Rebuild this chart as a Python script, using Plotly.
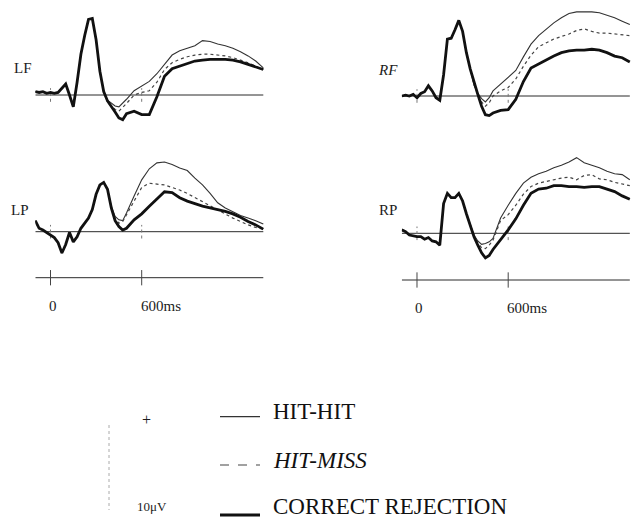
import plotly.graph_objects as go

# ---------------- data (µV) ----------------
times_ms = [-100, -75, -50, -25, 0, 25, 50, 75, 100, 125, 150, 175, 200, 225, 250,
            275, 300, 325, 350, 375, 400, 425, 450, 475, 500,
            550, 600, 650, 700, 750, 800, 850, 900, 950, 1000, 1050, 1100, 1150,
            1200, 1250, 1300, 1350, 1400]

lf_cr = [0.4, 0.3, 0.4, 0.2, 0.3, 0.2, 0.3, 0.8, 1.3, 0.0, -1.4, 1.5, 4.8, 7.0, 8.9,
         9.0, 6.5, 2.8, 0.4, -0.7, -1.3, -2.0, -2.7, -2.9, -2.2,
         -1.9, -2.3, -2.3, -0.2, 2.2, 3.1, 3.4, 3.7, 4.0, 4.1, 4.2, 4.2, 4.2,
         4.1, 3.9, 3.6, 3.3, 3.0]
lf_hh = [0.4, 0.3, 0.4, 0.2, 0.3, 0.2, 0.3, 0.8, 1.3, 0.0, -1.4, 1.5, 4.8, 7.0, 8.9,
         9.0, 6.5, 2.8, 0.4, -0.6, -1.0, -1.3, -1.4, -1.0, -0.5,
         0.5, 1.0, 1.6, 2.5, 3.6, 4.7, 5.2, 5.5, 5.8, 6.4, 6.3, 6.0, 5.8,
         5.5, 5.1, 4.6, 4.0, 3.2]
lf_hm = [0.4, 0.3, 0.4, 0.2, 0.3, 0.2, 0.3, 0.8, 1.3, 0.0, -1.4, 1.5, 4.8, 7.0, 8.9,
         9.0, 6.5, 2.8, 0.4, -0.8, -1.3, -1.7, -1.9, -1.5, -1.0,
         0.0, 0.3, 0.5, 1.5, 3.0, 3.8, 4.2, 4.5, 4.7, 4.8, 4.8, 4.7, 4.6,
         4.4, 4.1, 3.8, 3.4, 3.0]

rf_cr = [0.0, 0.1, 0.0, 0.2, -0.2, 0.3, 0.5, 1.2, 0.6, -0.2, -0.5, 2.5, 6.7, 6.8, 7.8,
         8.9, 7.6, 5.1, 3.2, 1.6, 0.2, -1.2, -2.2, -2.3, -2.0,
         -1.7, -1.6, -0.4, 1.7, 3.3, 3.8, 4.3, 4.7, 5.1, 5.3, 5.4, 5.4, 5.5,
         5.4, 5.1, 4.7, 4.5, 4.0]
rf_hh = [0.0, 0.1, 0.0, 0.2, -0.2, 0.3, 0.5, 1.2, 0.6, -0.2, -0.5, 2.5, 6.7, 6.8, 7.8,
         8.9, 7.6, 5.1, 3.2, 1.3, 0.3, -0.3, -0.7, -0.2, 0.6,
         1.4, 2.2, 3.0, 4.6, 6.1, 7.1, 7.9, 8.6, 9.2, 9.7, 9.9, 9.9, 9.9,
         9.8, 9.5, 9.2, 8.8, 8.4]
rf_hm = [0.0, 0.1, 0.0, 0.2, -0.2, 0.3, 0.5, 1.2, 0.6, -0.2, -0.5, 2.5, 6.7, 6.8, 7.8,
         8.9, 7.6, 5.1, 3.2, 1.4, 0.1, -0.7, -1.2, -0.8, 0.0,
         0.6, 1.0, 2.0, 3.5, 4.8, 5.8, 6.3, 6.7, 7.0, 7.3, 7.7, 7.9, 7.6,
         7.4, 7.4, 7.3, 7.2, 7.1]

lp_cr = [1.3, 0.4, 0.2, -0.1, -0.3, -0.7, -1.3, -2.5, -1.5, -0.1, -1.2, -0.6, 0.4, 1.0, 1.6,
         2.6, 4.4, 5.5, 5.8, 5.0, 2.8, 1.3, 0.6, 0.2, 0.4,
         1.4, 2.1, 3.0, 3.9, 4.7, 4.6, 4.0, 3.6, 3.3, 3.0, 2.8, 2.6, 2.4,
         2.1, 1.7, 1.2, 0.8, 0.3]
lp_hh = [1.3, 0.4, 0.2, -0.1, -0.3, -0.7, -1.3, -2.5, -1.5, -0.1, -1.2, -0.6, 0.4, 1.0, 1.6,
         2.6, 4.4, 5.5, 5.8, 5.0, 3.0, 1.8, 1.4, 1.3, 2.2,
         4.2, 6.1, 7.4, 8.1, 8.2, 7.9, 7.5, 7.2, 6.3, 5.5, 4.5, 3.4, 2.8,
         2.3, 1.9, 1.6, 1.3, 0.9]
lp_hm = [1.3, 0.4, 0.2, -0.1, -0.3, -0.7, -1.3, -2.5, -1.5, -0.1, -1.2, -0.6, 0.4, 1.0, 1.6,
         2.6, 4.4, 5.5, 5.8, 5.0, 3.0, 1.5, 1.0, 1.2, 2.0,
         3.6, 5.2, 5.7, 5.6, 5.5, 5.2, 4.9, 4.5, 4.0, 3.5, 3.0, 2.5, 2.0,
         1.6, 1.2, 0.8, 0.5, 0.3]

rp_cr = [0.4, 0.2, -0.2, -0.3, -0.4, -0.4, -0.7, -0.5, -0.9, -1.0, -1.4, 3.5, 4.7, 4.2, 4.2,
         4.7, 3.8, 2.3, 1.0, -0.4, -1.4, -2.3, -2.9, -2.6, -1.9,
         -0.8, 0.4, 1.7, 3.3, 4.7, 5.2, 5.3, 5.6, 5.6, 5.5, 5.5, 5.4, 5.5,
         5.5, 5.2, 4.9, 4.4, 4.0]
rp_hh = [0.4, 0.2, -0.2, -0.3, -0.4, -0.4, -0.7, -0.5, -0.9, -1.0, -1.4, 3.5, 4.7, 4.2, 4.2,
         4.7, 3.8, 2.3, 1.0, -0.2, -0.9, -1.3, -1.2, -1.0, -0.6,
         1.8, 3.3, 4.7, 5.9, 6.6, 7.0, 7.3, 7.7, 8.0, 8.4, 8.9, 8.3, 8.0,
         7.7, 7.3, 7.0, 6.9, 6.3]
rp_hm = [0.4, 0.2, -0.2, -0.3, -0.4, -0.4, -0.7, -0.5, -0.9, -1.0, -1.4, 3.5, 4.7, 4.2, 4.2,
         4.7, 3.8, 2.3, 1.0, -0.3, -1.1, -1.7, -1.8, -1.4, -0.8,
         1.5, 2.2, 3.3, 4.6, 5.5, 5.9, 6.1, 6.3, 6.5, 6.6, 6.3, 6.8, 6.9,
         6.4, 6.3, 6.0, 5.8, 5.6]

panel_names = ["LF", "RF", "LP", "RP"]
series_names = ["HIT-HIT", "HIT-MISS", "CORRECT REJECTION"]
time_tick_ms = [0, 600]
time_tick_labels = ["0", "600ms"]
calib_uv = 10

for arr in (lf_cr, lf_hh, lf_hm, rf_cr, rf_hh, rf_hm, lp_cr, lp_hh, lp_hm, rp_cr, rp_hh, rp_hm):
    assert len(arr) == len(times_ms)

# ---------------- layout geometry ----------------
W, H = 636, 521
PX_PER_UV = 8.5
PX_PER_MS = 0.152
X_RANGE = [-100, 1420]
FONT = "Liberation Serif"
INK = "#1c1c1c"

panels = [
    dict(cr=lf_cr, hh=lf_hh, hm=lf_hm, zero_px=50.5, top=5, bot=140, base=95,
         label=(23, 68), italic=False, timeline=None),
    dict(cr=rf_cr, hh=rf_hh, hm=rf_hm, zero_px=417, top=5, bot=140, base=96,
         label=(388, 70), italic=True, timeline=None),
    dict(cr=lp_cr, hh=lp_hh, hm=lp_hm, zero_px=50.5, top=145, bot=320, base=231.7,
         label=(20, 210), italic=False, timeline=277.7),
    dict(cr=rp_cr, hh=rp_hh, hm=rp_hm, zero_px=417, top=145, bot=320, base=233.3,
         label=(388, 210), italic=False, timeline=280),
]

fig = go.Figure()
annotations = []
shapes = []
layout_axes = {}

def px_x(p):
    return p / W

def px_y(p):
    return 1 - p / H

for i, (name, p) in enumerate(zip(panel_names, panels)):
    sfx = "" if i == 0 else str(i + 1)
    xa, ya = "x" + sfx, "y" + sfx
    x0 = p["zero_px"] + X_RANGE[0] * PX_PER_MS
    x1 = p["zero_px"] + X_RANGE[1] * PX_PER_MS
    yr = [-(p["bot"] - p["base"]) / PX_PER_UV, (p["base"] - p["top"]) / PX_PER_UV]
    layout_axes["xaxis" + sfx] = dict(domain=[x0 / W, x1 / W], range=X_RANGE, visible=False,
                                      anchor=ya, fixedrange=True)
    layout_axes["yaxis" + sfx] = dict(domain=[1 - p["bot"] / H, 1 - p["top"] / H], range=yr,
                                      visible=False, anchor=xa, fixedrange=True)

    # baseline
    fig.add_trace(go.Scatter(x=[times_ms[0], times_ms[-1]], y=[0, 0], mode="lines",
                             line=dict(color="#2a2a2a", width=1), xaxis=xa, yaxis=ya,
                             showlegend=False, hoverinfo="skip"))
    # small dotted marks at 0 and 600 ms on the baseline
    for t in time_tick_ms:
        fig.add_trace(go.Scatter(x=[t, t], y=[-0.8, 0.8], mode="lines",
                                 line=dict(color="#777", width=1, dash="dot"),
                                 xaxis=xa, yaxis=ya, showlegend=False, hoverinfo="skip"))
    # waveforms
    fig.add_trace(go.Scatter(x=times_ms, y=p["hh"], mode="lines", name=series_names[0],
                             line=dict(color="#333", width=1.1), xaxis=xa, yaxis=ya,
                             showlegend=False))
    fig.add_trace(go.Scatter(x=times_ms, y=p["hm"], mode="lines", name=series_names[1],
                             line=dict(color="#444", width=1.2, dash="dot"), xaxis=xa, yaxis=ya,
                             showlegend=False))
    fig.add_trace(go.Scatter(x=times_ms, y=p["cr"], mode="lines", name=series_names[2],
                             line=dict(color="#111", width=2.8), xaxis=xa, yaxis=ya,
                             showlegend=False))

    lab = f"<i>{name}</i>" if p["italic"] else name
    annotations.append(dict(text=lab, x=px_x(p["label"][0]), y=px_y(p["label"][1]),
                            xref="paper", yref="paper", showarrow=False,
                            font=dict(family=FONT, size=15, color=INK),
                            xanchor="center", yanchor="middle"))

    if p["timeline"] is not None:
        ty = -(p["timeline"] - p["base"]) / PX_PER_UV
        fig.add_trace(go.Scatter(x=[times_ms[0], times_ms[-1]], y=[ty, ty], mode="lines",
                                 line=dict(color="#2a2a2a", width=1), xaxis=xa, yaxis=ya,
                                 showlegend=False, hoverinfo="skip"))
        for t, tl in zip(time_tick_ms, time_tick_labels):
            fig.add_trace(go.Scatter(x=[t, t], y=[ty - 0.9, ty + 0.9], mode="lines",
                                     line=dict(color="#444", width=1),
                                     xaxis=xa, yaxis=ya, showlegend=False, hoverinfo="skip"))
            annotations.append(dict(text=tl, x=t, y=px_y(p["timeline"] + 28),
                                    xref=xa, yref="paper", showarrow=False,
                                    font=dict(family=FONT, size=15, color=INK),
                                    xanchor="center" if t == 0 else "left",
                                    xshift=2 if t == 0 else -3,
                                    yanchor="middle"))

# ---------------- legend (drawn as text + sample lines) ----------------
legend_rows = [
    (series_names[0], 411.7, 416.7, dict(color="#333", width=1.2), False),
    (series_names[1], 460, 465, dict(color="#444", width=1.2, dash="dash"), True),
    (series_names[2], 506.7, 515, dict(color="#111", width=3), False),
]
for text, ty, ly, line, ital in legend_rows:
    shapes.append(dict(type="line", xref="paper", yref="paper",
                       x0=px_x(220), x1=px_x(260), y0=px_y(ly), y1=px_y(ly), line=line))
    annotations.append(dict(text=f"<i>{text}</i>" if ital else text,
                            x=px_x(271), y=px_y(ty), xref="paper", yref="paper",
                            showarrow=False, xanchor="left", yanchor="middle",
                            font=dict(family=FONT, size=23, color="#111")))

# calibration bar
shapes.append(dict(type="line", xref="paper", yref="paper",
                   x0=px_x(109), x1=px_x(109), y0=px_y(425), y1=px_y(425 + calib_uv * PX_PER_UV),
                   line=dict(color="#aaa", width=1, dash="dot")))
annotations.append(dict(text="+", x=px_x(140), y=px_y(430), xref="paper", yref="paper",
                        showarrow=False, font=dict(family=FONT, size=16, color=INK)))
annotations.append(dict(text=f"{calib_uv}\u03bcV", x=px_x(135), y=px_y(506), xref="paper",
                        yref="paper", showarrow=False, xanchor="left", yanchor="middle",
                        font=dict(family=FONT, size=13, color=INK)))

fig.update_layout(width=W, height=H, margin=dict(l=0, r=0, t=0, b=0),
                  paper_bgcolor="white", plot_bgcolor="white",
                  annotations=annotations, shapes=shapes, showlegend=False,
                  **layout_axes)

fig.write_html("out.html")
